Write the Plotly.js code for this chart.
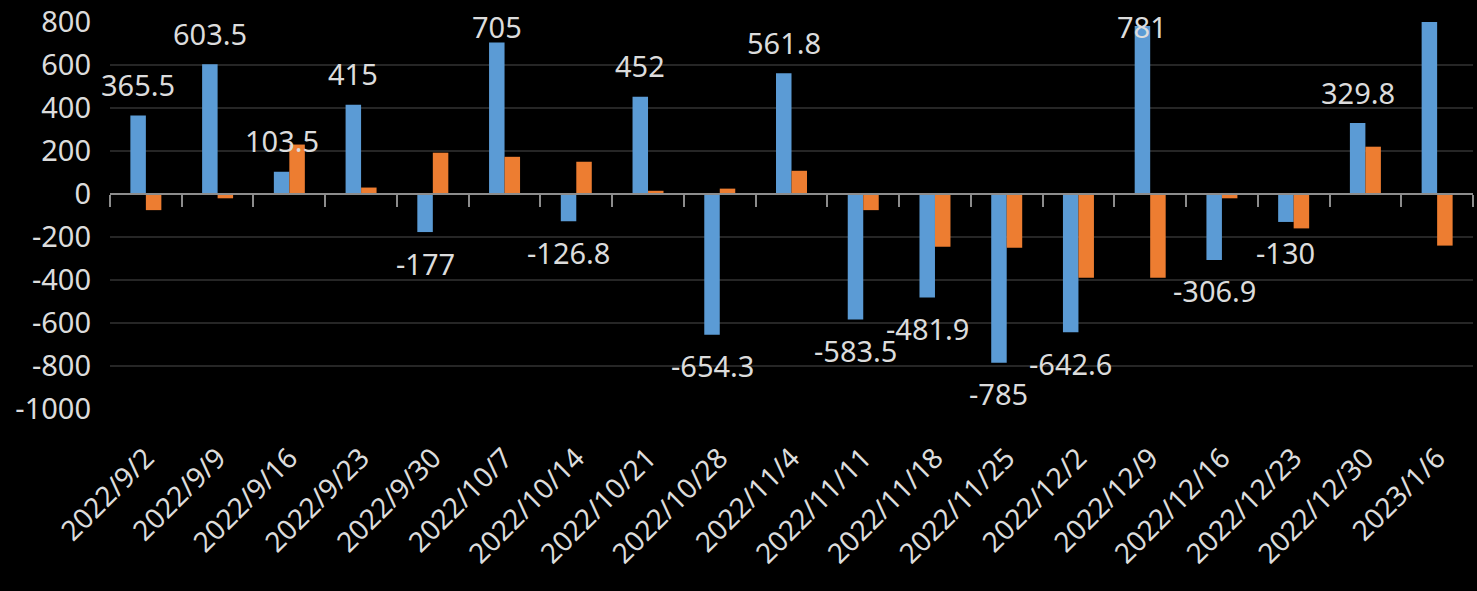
<!DOCTYPE html>
<html>
<head>
<meta charset="utf-8">
<script src="https://cdn.plot.ly/plotly-3.0.1.min.js"></script>
<style>html,body{margin:0;padding:0;background:#000;}#chart{width:1477px;height:591px;}</style>
</head>
<body>
<div id="chart"></div>
<script>
// ---- data ----
const categories = ["2022/9/2","2022/9/9","2022/9/16","2022/9/23","2022/9/30","2022/10/7","2022/10/14","2022/10/21","2022/10/28","2022/11/4","2022/11/11","2022/11/18","2022/11/25","2022/12/2","2022/12/9","2022/12/16","2022/12/23","2022/12/30","2023/1/6"];
const blueValues = [365.5, 603.5, 103.5, 415, -177, 705, -126.8, 452, -654.3, 561.8, -583.5, -481.9, -785, -642.6, 781, -306.9, -130, 329.8, 800];
const orangeValues = [-75, -20, 230, 30, 192, 173, 150, 15, 25, 108, -75, -245, -250, -390, -390, -20, -160, 220, -240];
const yTickVals = [-1000, -800, -600, -400, -200, 0, 200, 400, 600, 800];
const yTickText = ["-1000", "-800", "-600", "-400", "-200", "0", "200", "400", "600", "800"];

// ---- style ----
const W = 1477, H = 591;
const margin = {l: 110, r: 4, t: 22, b: 182};
const yMin = -1000, yMax = 800;
const bargap = 0.568;
const textColor = '#dcdcdc';
const fontFamily = '"Noto Sans", "Open Sans", sans-serif';
const blue = '#5b9bd5', orange = '#ed7d31';

const plotW = W - margin.l - margin.r;
const plotH = H - margin.t - margin.b;
const ppu = plotH / (yMax - yMin);            // pixels per data unit
const catW = plotW / categories.length;
const blueShift = -catW * (1 - bargap) / 4;    // centre of the blue bar in its group
const labelOffset = 31;                         // px from bar end to label centre
const topLimit = yMax - 4 / ppu;

const annotations = [];
blueValues.forEach((v, i) => {
  if (v >= yMax) return;  // label clipped in the original
  let y = v >= 0 ? v + labelOffset / ppu : v - labelOffset / ppu;
  if (y > topLimit) y = topLimit;
  annotations.push({
    x: categories[i], y: y, xref: 'x', yref: 'y',
    text: String(v), showarrow: false, xshift: blueShift,
    font: {size: 29, color: textColor, family: fontFamily},
    xanchor: 'center', yanchor: 'middle'
  });
});

const traces = [
  {type: 'bar', x: categories, y: blueValues, marker: {color: blue}, hoverinfo: 'x+y', cliponaxis: true},
  {type: 'bar', x: categories, y: orangeValues, marker: {color: orange}, hoverinfo: 'x+y', cliponaxis: true},
  {type: 'scatter', mode: 'markers', x: categories, y: categories.map(() => 0), xaxis: 'x2', yaxis: 'y',
   marker: {opacity: 0}, hoverinfo: 'skip', showlegend: false}
];

const layout = {
  width: W, height: H,
  paper_bgcolor: '#000', plot_bgcolor: '#000',
  margin: margin,
  showlegend: false,
  barmode: 'group', bargap: bargap, bargroupgap: 0,
  font: {family: fontFamily, color: textColor},
  xaxis: {
    type: 'category', categoryarray: categories, range: [-0.5, categories.length - 0.5],
    tickangle: -45, showgrid: false, zeroline: false, showline: false,
    ticks: '', ticklabelstandoff: 26,
    tickfont: {size: 28, color: textColor, family: fontFamily}
  },
  xaxis2: {
    type: 'category', categoryarray: categories, range: [-0.5, categories.length - 0.5],
    overlaying: 'x', anchor: 'free', position: (0 - yMin) / (yMax - yMin), side: 'bottom',
    showline: true, linecolor: '#8c8c8c', linewidth: 2,
    ticks: 'outside', ticklen: 12, tickwidth: 2, tickcolor: '#8c8c8c', tickson: 'boundaries',
    showticklabels: false, showgrid: false, zeroline: false
  },
  yaxis: {
    range: [yMin, yMax], tickvals: yTickVals, ticktext: yTickText,
    showgrid: true, gridcolor: '#262626', gridwidth: 2,
    zeroline: false, showline: false, ticks: '', ticklabelstandoff: 18,
    tickfont: {size: 29, color: textColor, family: fontFamily}
  },
  annotations: annotations
};

Plotly.newPlot('chart', traces, layout, {displayModeBar: false, staticPlot: true});
</script>
</body>
</html>
